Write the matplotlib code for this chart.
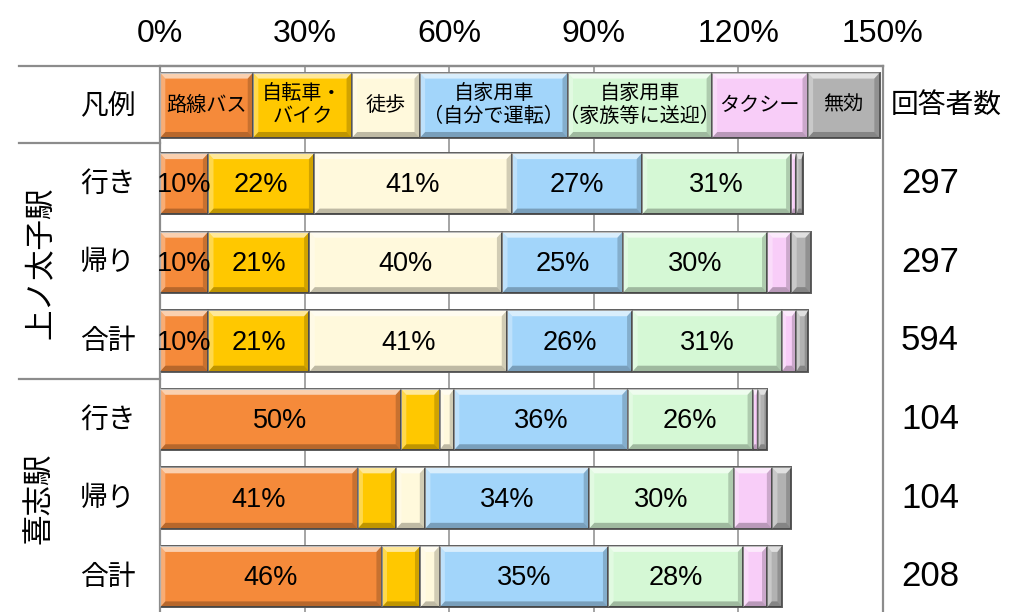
import matplotlib

matplotlib.use("Agg")
import matplotlib.pyplot as plt
from matplotlib import font_manager
from matplotlib.lines import Line2D
from matplotlib.patches import Polygon
from matplotlib.transforms import blended_transform_factory

JP = ["Noto Sans CJK JP", "DejaVu Sans"]
_names = {f.name for f in font_manager.fontManager.ttflist}
NUM = "Liberation Sans" if "Liberation Sans" in _names else "DejaVu Sans"
NARROW = "Liberation Sans Narrow" if "Liberation Sans Narrow" in _names else NUM

# 交通手段（複数回答）
modes = ["路線バス", "自転車・\nバイク", "徒歩", "自家用車\n（自分で運転）",
         "自家用車\n（家族等に送迎）", "タクシー", "無効"]
colors = ["#F58A3A", "#FFC800", "#FFF9DC", "#A2D5FA", "#D5F8D5", "#F8CDF8", "#B2B2B2"]

stations = ["上ノ太子駅", "喜志駅"]
trips = ["行き", "帰り", "合計", "行き", "帰り", "合計"]

bus = [10, 10, 10, 50, 41, 46]
bike = [22, 21, 21, 8, 8, 8]
walk = [41, 40, 41, 3, 6, 4]
car_self = [27, 25, 26, 36, 34, 35]
car_family = [31, 30, 31, 26, 30, 28]
taxi = [1, 5, 3, 1, 8, 5]
invalid = [1.5, 4, 2.5, 2, 4, 3]
respondents = [297, 297, 594, 104, 104, 208]

series = [bus, bike, walk, car_self, car_family, taxi, invalid]

# widths of the legend cells, in axis units
legend_w = [19.3, 20.5, 14.1, 30.7, 29.9, 19.9, 14.9]

W, H = 1026, 612
fig = plt.figure(figsize=(W / 100, H / 100), dpi=100)
ax = fig.add_axes([160 / W, 0, (883 - 160) / W, (H - 66) / H])
ax.set_xlim(0, 150)
ax.set_ylim(6.45, -0.5)

GRID = "#8c8c8c"
EDGE = "#5e5e5e"
ax.spines["bottom"].set_visible(False)
for s in ["left", "right", "top"]:
    ax.spines[s].set_color(GRID)
    ax.spines[s].set_linewidth(1.6)
ax.xaxis.tick_top()
ax.set_xticks(range(0, 151, 30))
ax.set_xticklabels([f"{t}%" for t in range(0, 151, 30)], family=NUM)
ax.tick_params(axis="x", length=0, pad=12, labelsize=23)
ax.set_yticks([])
ax.xaxis.grid(True, color=GRID, linewidth=1.1)
ax.set_axisbelow(True)


def bevel(x0, w, yc, h):
    # light top edge / dark bottom edge to give the bars a raised look
    bx = min(1.1, w * 0.3)
    by = 0.075
    yt, yb = yc - h / 2, yc + h / 2
    parts = [
        ([(x0, yt), (x0 + w, yt), (x0 + w - bx, yt + by), (x0 + bx, yt + by)], "white", 0.6),
        ([(x0, yb), (x0 + w, yb), (x0 + w - bx, yb - by), (x0 + bx, yb - by)], "black", 0.25),
        ([(x0, yt), (x0 + bx, yt + by), (x0 + bx, yb - by), (x0, yb)], "white", 0.3),
        ([(x0 + w, yt), (x0 + w - bx, yt + by), (x0 + w - bx, yb - by), (x0 + w, yb)], "black", 0.18),
    ]
    for pts, c, a in parts:
        ax.add_patch(Polygon(pts, closed=True, facecolor=c, alpha=a, edgecolor="none", zorder=3))


# legend row
lh = 0.83
left = 0
for name, w, c in zip(modes, legend_w, colors):
    ax.barh(0, w, left=left, height=lh, color=c, edgecolor=EDGE, linewidth=1.4, zorder=2)
    bevel(left, w, 0, lh)
    ax.text(left + w / 2, 0, name, ha="center", va="center", fontsize=14.5,
            family=JP, linespacing=1.1, zorder=4)
    left += w

# data rows
bh = 0.78
ypos = list(range(1, len(trips) + 1))
lefts = [0] * len(trips)
for vals, c in zip(series, colors):
    ax.barh(ypos, vals, left=lefts, height=bh, color=c, edgecolor=EDGE,
            linewidth=1.4, zorder=2)
    for y, l, v in zip(ypos, lefts, vals):
        bevel(l, v, y, bh)
        if v >= 10:
            ax.text(l + v / 2, y + 0.02, f"{v}%", ha="center", va="center",
                    fontsize=19.5, family=NARROW, zorder=4)
    lefts = [l + v for l, v in zip(lefts, vals)]

# left header columns
tr = blended_transform_factory(fig.transFigure, ax.transData)
ax.text(108 / W, 0, "凡例", transform=tr, ha="center", va="center", fontsize=20, family=JP)
for y, t in zip(ypos, trips):
    ax.text(108 / W, y, t, transform=tr, ha="center", va="center", fontsize=20, family=JP)

# station names, rotated to read bottom-up
for name, yc in zip(stations, [2, 5]):
    ax.text(40 / W, yc, name, transform=tr, ha="center", va="center", rotation=90,
            rotation_mode="anchor", fontsize=22, family=JP)

# respondents column
ax.text(946 / W, 0, "回答者数", transform=tr, ha="center", va="center", fontsize=20, family=JP)
for y, n in zip(ypos, respondents):
    ax.text(930 / W, y, str(n), transform=tr, ha="center", va="center", fontsize=25, family=NUM)

# table rules
for x0, x1, yp in [(19, 883, 66), (19, 160, 143), (19, 160, 379)]:
    fig.add_artist(Line2D([x0 / W, x1 / W], [1 - yp / H, 1 - yp / H], color=GRID,
                          linewidth=1.6, transform=fig.transFigure))

fig.savefig("out.png", dpi=100, facecolor="white")
